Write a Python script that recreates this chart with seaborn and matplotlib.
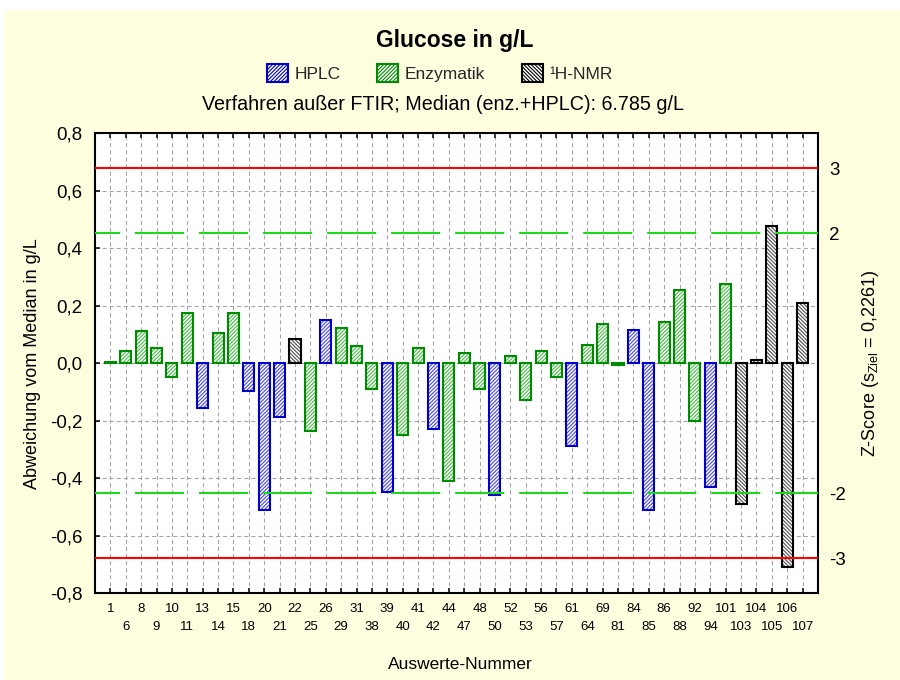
import numpy as np
import pandas as pd
import matplotlib
matplotlib.use("Agg")
import matplotlib.pyplot as plt
from matplotlib.patches import Patch, Rectangle
import seaborn as sns

# Auswerte-Nummern (laboratories) in plotting order
nummer = ["1", "6", "8", "9", "10", "11", "13", "14", "15", "18",
          "20", "21", "22", "25", "26", "29", "31", "38", "39", "40",
          "41", "42", "44", "47", "48", "50", "52", "53", "56", "57",
          "61", "64", "69", "81", "84", "85", "86", "88", "92", "94",
          "101", "103", "104", "105", "106", "107"]

# deviation from the median in g/L
abweichung = [0.005, 0.044, 0.114, 0.053, -0.046, 0.174, -0.156, 0.105, 0.174, -0.098,
              -0.509, -0.188, 0.084, -0.237, 0.151, 0.124, 0.060, -0.088, -0.447, -0.249,
              0.053, -0.229, -0.408, 0.035, -0.088, -0.458, 0.024, -0.128, 0.044, -0.046,
              -0.287, 0.065, 0.137, -0.005, 0.115, -0.509, 0.145, 0.256, -0.199, -0.429,
              0.275, -0.488, 0.012, 0.476, -0.710, 0.208]

# analytical method of each laboratory
verfahren = ["Enzymatik", "Enzymatik", "Enzymatik", "Enzymatik", "Enzymatik", "Enzymatik", "HPLC", "Enzymatik", "Enzymatik", "HPLC",
             "HPLC", "HPLC", "¹H-NMR", "Enzymatik", "HPLC", "Enzymatik", "Enzymatik", "Enzymatik", "HPLC", "Enzymatik",
             "Enzymatik", "HPLC", "Enzymatik", "Enzymatik", "Enzymatik", "HPLC", "Enzymatik", "Enzymatik", "Enzymatik", "Enzymatik",
             "HPLC", "Enzymatik", "Enzymatik", "Enzymatik", "HPLC", "HPLC", "Enzymatik", "Enzymatik", "Enzymatik", "HPLC",
             "Enzymatik", "¹H-NMR", "¹H-NMR", "¹H-NMR", "¹H-NMR", "¹H-NMR"]

methoden = ["HPLC", "Enzymatik", "¹H-NMR"]
z_stufen = [3, 2, -2, -3]
s_ziel = 0.2261

sns.set_theme(style="white")
plt.rcParams["font.family"] = ["Liberation Sans", "DejaVu Sans"]
plt.rcParams["hatch.linewidth"] = 0.8
plt.rcParams["lines.scale_dashes"] = False

df = pd.DataFrame({"Nummer": nummer, "Abweichung": abweichung, "Verfahren": verfahren})

kante = {"HPLC": "#0000C8", "Enzymatik": "#008C00", "¹H-NMR": "#000000"}
schraffur_farbe = {"HPLC": "#4848E8", "Enzymatik": "#48BC48", "¹H-NMR": "#505050"}
schraffur = {"HPLC": "/" * 9, "Enzymatik": "/" * 9, "¹H-NMR": "\\" * 9}

W, H = 900, 680
fig = plt.figure(figsize=(W / 100, H / 100), dpi=100)
fig.patch.set_facecolor("white")
fig.patches.append(Rectangle((4 / W, 0), 1 - 4 / W, 1 - 10 / H, transform=fig.transFigure,
                             facecolor="#FFFFE0", edgecolor="none", zorder=-10))

ax = fig.add_axes([95 / W, 1 - 593.3 / H, 723 / W, 460 / H])
ax.set_facecolor("white")


def methode_von(bar):
    idx = int(round(bar.get_x() + bar.get_width() / 2))
    return verfahren[idx]


# hatched bar bodies
sns.barplot(data=df, x="Nummer", y="Abweichung", hue="Verfahren", order=nummer,
            hue_order=methoden, dodge=False, width=0.72, palette=schraffur_farbe,
            errorbar=None, legend=False, ax=ax)
n_fuell = len(ax.patches)
for bar in ax.patches:
    m = methode_von(bar)
    bar.set_facecolor("white")
    bar.set_edgecolor(schraffur_farbe[m])
    bar.set_hatch(schraffur[m])
    bar.set_linewidth(0)

# bar outlines
sns.barplot(data=df, x="Nummer", y="Abweichung", hue="Verfahren", order=nummer,
            hue_order=methoden, dodge=False, width=0.72, palette=kante, fill=False,
            errorbar=None, legend=False, ax=ax)
for bar in ax.patches[n_fuell:]:
    m = methode_von(bar)
    bar.set_facecolor("none")
    bar.set_edgecolor(kante[m])
    bar.set_hatch(None)
    bar.set_linewidth(1.5)

# z-score limits
for z in (3, -3):
    ax.axhline(z * s_ziel, color="#FF0000", lw=1.5, zorder=4)
for z in (2, -2):
    ax.axhline(z * s_ziel, color="#1ED81E", lw=1.5, zorder=4,
               linestyle=(17.3, (35.3, 10.8)))

# axes, ticks, grid
pos = np.arange(len(nummer))
ax.set_xlim(-1, len(nummer))
ax.set_ylim(-0.8, 0.8)
ax.set_xticks(pos[::2], nummer[::2])
ax.set_xticks(pos[1::2], nummer[1::2], minor=True)
ax.tick_params(axis="x", which="both", direction="in", top=True, bottom=True,
               length=3.6, width=1.1, color="black", labelsize=9.5, labelcolor="black")
ax.tick_params(axis="x", which="major", pad=7)
ax.tick_params(axis="x", which="minor", pad=20)

yt = np.round(np.arange(-0.8, 0.81, 0.2), 1)
ax.set_yticks(yt, [("%.1f" % v).replace(".", ",").replace("-0,0", "0,0") for v in yt])
ax.tick_params(axis="y", direction="in", left=True, right=True, length=3.6, width=1.1,
               color="black", labelsize=13.5, labelcolor="black", pad=9)

grid_stil = dict(color="#A4A4A4", linewidth=0.8, linestyle=(0, (2.9, 2.2)))
ax.grid(True, axis="x", which="both", **grid_stil)
ax.grid(True, axis="y", which="major", **grid_stil)
ax.set_axisbelow(True)
for sp in ax.spines.values():
    sp.set_visible(True)
    sp.set_color("black")
    sp.set_linewidth(1.5)

ax.set_xlabel("Auswerte-Nummer", fontsize=12.5, color="black")
ax.xaxis.set_label_coords(0.505, -0.154)
ax.xaxis.label.set_va("center")
ax.set_ylabel("Abweichung vom Median in g/L", fontsize=13, color="black")
ax.yaxis.set_label_coords(-0.0858, 0.5)
ax.yaxis.label.set_va("center")

# secondary z-score scale
ax2 = ax.twinx()
ax2.set_ylim(ax.get_ylim())
ax2.set_yticks([z * s_ziel for z in z_stufen], [str(z) for z in z_stufen])
ax2.tick_params(axis="y", length=0, pad=8, labelsize=13.5, labelcolor="black")
for sp in ax2.spines.values():
    sp.set_visible(False)
ax2.grid(False)
ax2.set_ylabel(r"Z-Score ($\mathregular{s_{Ziel}}$ = 0,2261)", fontsize=13, color="black")
ax2.yaxis.set_label_coords(1.072, 0.5)
ax2.yaxis.label.set_va("center")

# header: title, legend, subtitle
fig.text(455 / W, 1 - 40 / H, "Glucose in g/L", fontsize=16.5, fontweight="bold",
         ha="center", va="center", color="black")
griffe = [Patch(facecolor="white", edgecolor=kante[m], hatch=schraffur[m], linewidth=1.5)
          for m in methoden]
fig.legend(griffe, methoden, loc="center", bbox_to_anchor=(440 / W, 1 - 73 / H), ncol=3,
           frameon=False, fontsize=12.5, handlelength=1.2, handleheight=1.3,
           handletextpad=0.4, columnspacing=2.1, borderaxespad=0, borderpad=0)
fig.text(443 / W, 1 - 104 / H, "Verfahren außer FTIR; Median (enz.+HPLC): 6.785 g/L",
         fontsize=14.2, ha="center", va="center", color="black")

fig.savefig("out.png", dpi=100, facecolor=fig.get_facecolor())
